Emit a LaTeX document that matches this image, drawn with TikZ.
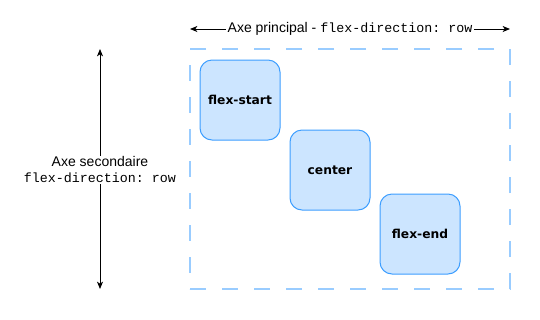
\documentclass[tikz,border=0pt]{standalone}
\usepackage{fontspec}
\setmainfont{Liberation Sans}
\setmonofont{Liberation Mono}
\newfontfamily\boxfont{DejaVu Sans}
\usetikzlibrary{arrows.meta}
\definecolor{boxfill}{HTML}{CCE5FF}
\definecolor{boxline}{HTML}{3D9EFF}
\definecolor{contline}{HTML}{99CCFF}
\tikzset{
  container/.style={draw=contline, line width=1.5pt, dash pattern=on 12pt off 12pt,
    minimum width=240pt, minimum height=180pt, inner sep=0pt},
  itembox/.style={draw=boxline, fill=boxfill, line width=0.75pt, rounded corners=9pt,
    minimum width=60pt, minimum height=60pt, inner sep=0pt,
    font=\boxfont\bfseries\fontsize{9.2pt}{11pt}\selectfont},
  axis/.style={draw=black, line width=0.75pt, {Stealth[length=5.5pt,width=4.5pt,inset=1.5pt]}-{Stealth[length=5.5pt,width=4.5pt,inset=1.5pt]}},
  axislabel/.style={fill=white, inner xsep=1pt, inner ysep=1pt, align=center,
    font=\fontsize{10.5pt}{13pt}\selectfont}
}
\newcommand{\codett}[1]{{\ttfamily\fontsize{10pt}{13pt}\selectfont #1}}
\begin{document}
\begin{tikzpicture}[x=0.75pt,y=-0.75pt]
\useasboundingbox (0,0) rectangle (540,319);
\node[container] (cont) at (350,169) {};
\node[itembox] (start) at (240,100) {flex-start};
\node[itembox] (mid) at (330,170) {center};
\node[itembox] (end) at (420,234) {flex-end};
\coordinate (hl) at (190,29);
\coordinate (hr) at (510,29);
\coordinate (vt) at (100,49);
\coordinate (vb) at (100,289);
\draw[axis] (hl) -- (hr);
\draw[axis] (vt) -- (vb);
\node[axislabel] (hlab) at (350,29) {Axe principal - \codett{flex-direction: row}};
\node[axislabel] (vlab) at (100,170) {Axe secondaire\\[-1pt]\codett{flex-direction: row}};
\end{tikzpicture}
\end{document}
